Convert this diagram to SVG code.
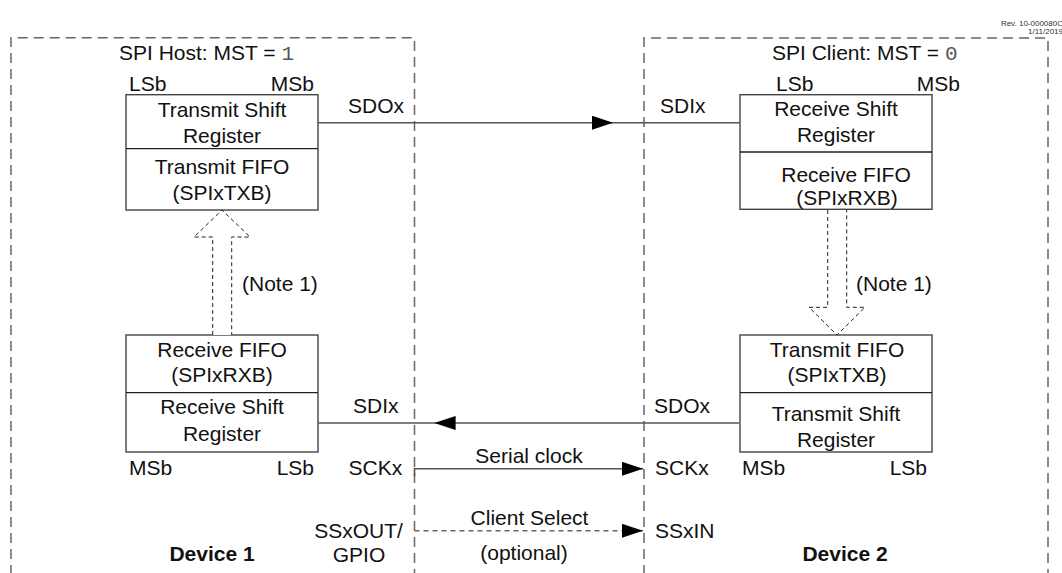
<svg xmlns="http://www.w3.org/2000/svg" width="1062" height="573" viewBox="0 0 1062 573">
<style>
text{font-family:"Liberation Sans",Arial,sans-serif;font-size:21px;fill:#111}
.c{text-anchor:middle}
.b{font-weight:bold}
.m{font-family:"Liberation Mono","Courier New",monospace;fill:#555}
.rev{font-size:8px;text-anchor:end;fill:#333}
.frame{fill:none;stroke:#666;stroke-width:1.5;stroke-dasharray:10 6}
.box{fill:#fff;stroke:#444;stroke-width:1.4}
.div{stroke:#222;stroke-width:1.3}
.wire{fill:none;stroke:#555;stroke-width:1.6}
.dwire{fill:none;stroke:#666;stroke-width:1.6;stroke-dasharray:5 4}
.blk{fill:#fff;stroke:#222;stroke-width:1;stroke-dasharray:4 3}
</style>
<defs>
<marker id="ah" markerUnits="userSpaceOnUse" markerWidth="21" markerHeight="14" viewBox="0 0 21 14" refX="21" refY="7" orient="auto">
<path d="M0,0 L21,7 L0,14 z" fill="#000" stroke="none"/>
</marker>
</defs>
<text class="rev" x="1063" y="26">Rev. 10-000080C</text>
<text class="rev" x="1063" y="34">1/11/2019</text>
<g id="device1">
<path class="frame" d="M11 575 V37.7 H414.5 V575"/>
<text x="119" y="60">SPI Host: MST = <tspan class="m">1</tspan></text>
<text class="b c" x="212" y="561">Device 1</text>
</g>
<g id="device2">
<path class="frame" d="M644 575 V38 H1048 V575"/>
<text x="772" y="60">SPI Client: MST = <tspan class="m">0</tspan></text>
<text class="b c" x="845" y="561">Device 2</text>
</g>
<g id="host-tx">
<rect class="box" x="126" y="94.7" width="192" height="115.3"/>
<line class="div" x1="126" y1="148.7" x2="318" y2="148.7"/>
<text x="129" y="90.7">LSb</text>
<text x="314" y="90.7" text-anchor="end">MSb</text>
<text class="c" x="222" y="116.7">Transmit Shift</text>
<text class="c" x="222" y="142.7">Register</text>
<text class="c" x="222" y="174">Transmit FIFO</text>
<text class="c" x="222" y="199.5">(SPIxTXB)</text>
</g>
<g id="host-rx">
<rect class="box" x="126" y="335" width="192" height="117"/>
<line class="div" x1="126" y1="392.7" x2="318" y2="392.7"/>
<text class="c" x="222" y="357">Receive FIFO</text>
<text class="c" x="222" y="381.7">(SPIxRXB)</text>
<text class="c" x="222" y="414.4">Receive Shift</text>
<text class="c" x="222" y="441">Register</text>
<text x="129" y="474.7">MSb</text>
<text x="314" y="474.7" text-anchor="end">LSb</text>
</g>
<g id="client-rx">
<rect class="box" x="740" y="94.7" width="192" height="114.6"/>
<line class="div" x1="740" y1="152" x2="932" y2="152"/>
<text x="776" y="90.7">LSb</text>
<text x="960" y="90.7" text-anchor="end">MSb</text>
<text class="c" x="836" y="115.5">Receive Shift</text>
<text class="c" x="836" y="141.5">Register</text>
<text class="c" x="846" y="181.5">Receive FIFO</text>
<text class="c" x="847" y="205">(SPIxRXB)</text>
</g>
<g id="client-tx">
<rect class="box" x="740" y="335" width="192" height="117"/>
<line class="div" x1="740" y1="392.7" x2="932" y2="392.7"/>
<text class="c" x="837" y="357">Transmit FIFO</text>
<text class="c" x="837" y="381.7">(SPIxTXB)</text>
<text class="c" x="836" y="421">Transmit Shift</text>
<text class="c" x="836" y="447">Register</text>
<text x="742" y="474.7">MSb</text>
<text x="927" y="474.7" text-anchor="end">LSb</text>
</g>
<g id="connectors">
<line class="wire" x1="318" y1="122.7" x2="613" y2="122.7" marker-end="url(#ah)"/>
<line class="wire" x1="612" y1="122.7" x2="740" y2="122.7"/>
<line class="wire" x1="739" y1="423" x2="434.6" y2="423" marker-end="url(#ah)"/>
<line class="wire" x1="436" y1="423" x2="318" y2="423"/>
<path class="wire" d="M414.5 476 V468.8 H643" marker-end="url(#ah)"/>
<path class="dwire" d="M414.5 530.8 H643" marker-end="url(#ah)"/>
<path class="blk" d="M212.7 335 V237 H194 L222 210 L250 237 H231.7 V335"/>
<path class="blk" d="M827.7 210 V307.3 H809 L837 335 L865 307.3 H846.7 V210"/>
<text x="348" y="112.7">SDOx</text>
<text x="660" y="112.7">SDIx</text>
<text x="353" y="412.7">SDIx</text>
<text x="654" y="412.7">SDOx</text>
<text x="348.5" y="474.7">SCKx</text>
<text x="655" y="474.7">SCKx</text>
<text class="c" x="529" y="462.5">Serial clock</text>
<text class="c" x="529.5" y="524.6">Client Select</text>
<text class="c" x="524" y="559.7">(optional)</text>
<text class="c" x="358.5" y="537.7">SSxOUT/</text>
<text class="c" x="359" y="561.8">GPIO</text>
<text x="655" y="538.4">SSxIN</text>
<text x="242" y="290.7">(Note 1)</text>
<text x="856" y="290.7">(Note 1)</text>
</g>
</svg>
